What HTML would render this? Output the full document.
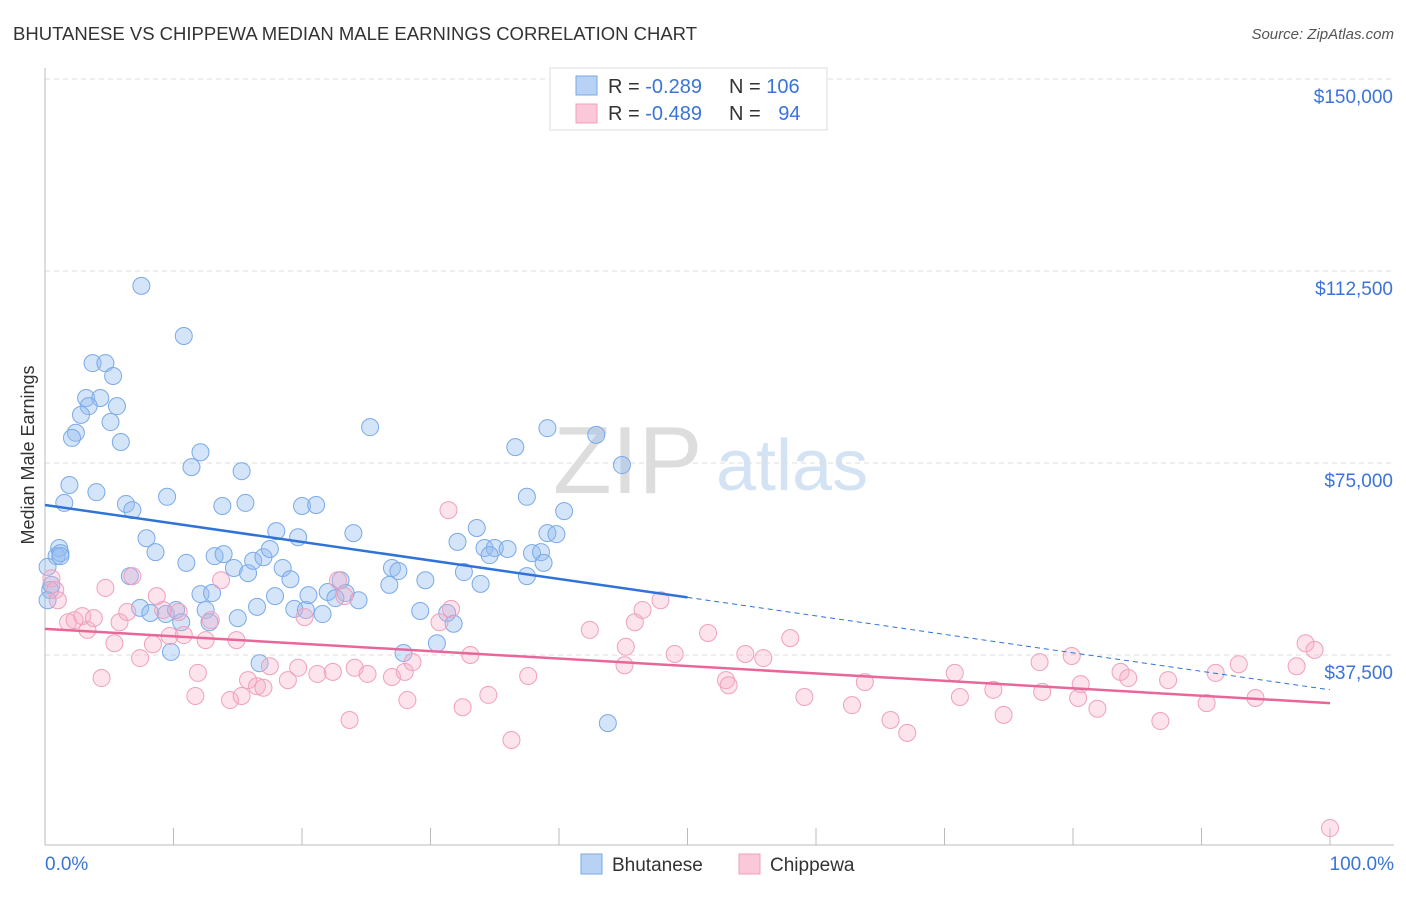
<!DOCTYPE html>
<html><head><meta charset="utf-8"><style>
body{margin:0;background:#fff;font-family:"Liberation Sans",sans-serif}
svg text{font-family:"Liberation Sans",sans-serif}
</style></head><body>
<svg id="chart" width="1406" height="892" viewBox="0 0 1406 892" xmlns="http://www.w3.org/2000/svg">
<text x="13" y="40" font-size="18" fill="#333" textLength="684" lengthAdjust="spacingAndGlyphs">BHUTANESE VS CHIPPEWA MEDIAN MALE EARNINGS CORRELATION CHART</text>
<text x="1394" y="39" font-size="15" fill="#555" text-anchor="end" font-style="italic">Source: ZipAtlas.com</text>
<g>
<text x="553" y="493" font-size="96" font-family="Liberation Serif" fill="#d0d0d0" opacity="0.7">ZIP</text>
<text x="716" y="490" font-size="72" fill="#b9d1ee" opacity="0.6">atlas</text>
</g>
<g id="grid"></g>
<g id="axes"></g>
<text transform="translate(34,455) rotate(-90)" font-size="18" fill="#333" text-anchor="middle">Median Male Earnings</text>
<g id="pts"></g>
<g id="trends"></g>
<g>
<rect x="550" y="68" width="277" height="62" fill="#fff" stroke="#ddd"/>
<rect x="576" y="76" width="21" height="19" fill="#b7d2f5" stroke="#7aaae8"/>
<rect x="576" y="104" width="21" height="19" fill="#fac8d8" stroke="#f0a0bc"/>
<text x="608" y="93" font-size="20" fill="#333">R = <tspan fill="#3a74d8">-0.289</tspan></text>
<text x="729" y="93" font-size="20" fill="#333">N = <tspan fill="#3a74d8">106</tspan></text>
<text x="608" y="120" font-size="20" fill="#333">R = <tspan fill="#3a74d8">-0.489</tspan></text>
<text x="729" y="120" font-size="20" fill="#333">N = <tspan fill="#3a74d8" dx="12">94</tspan></text>
</g>
<g>
<rect x="581" y="854" width="21" height="20" fill="#b7d2f5" stroke="#7aaae8"/>
<text x="612" y="871" font-size="19" fill="#333">Bhutanese</text>
<rect x="739" y="854" width="21" height="20" fill="#fac8d8" stroke="#f0a0bc"/>
<text x="770" y="871" font-size="19" fill="#333">Chippewa</text>
</g>
</svg>
<script>
const yTicks=[37500,75000,112500,150000];
const yTickLabels=["$37,500","$75,000","$112,500","$150,000"];
const blueX=[7.5,10.8,3.7,4.7,5.3,3.2,4.3,3.4,5.6,2.8,5.1,2.4,2.1,5.9,12.1,11.4,15.3,1.9,4.0,1.5,9.5,13.8,15.6,6.3,6.8,20.0,21.1,18.0,19.7,24.0,7.9,8.6,11.0,13.2,13.9,14.7,15.8,16.2,17.0,17.5,18.5,19.1,17.9,12.1,13.0,6.6,7.4,8.2,9.4,10.2,12.5,12.8,10.6,15.0,16.5,19.4,20.3,21.6,20.5,22.0,23.0,23.4,24.4,22.6,27.0,27.5,26.8,29.6,32.6,33.9,32.1,33.6,34.2,35.0,36.0,37.5,37.9,38.6,38.8,39.1,39.8,34.6,40.4,37.5,36.6,39.1,42.9,44.9,25.3,29.2,30.5,31.3,31.8,27.9,16.7,43.8,9.8,1.1,0.9,1.2,0.2,0.4,0.2,0.5,1.2];
const blueY=[109.6,99.8,94.5,94.5,92.0,87.7,87.7,86.1,86.1,84.4,83.0,80.9,79.9,79.1,77.1,74.2,73.4,70.7,69.3,67.2,68.4,66.6,67.2,67.0,65.8,66.6,66.8,61.7,60.5,61.3,60.3,57.6,55.5,56.8,57.2,54.5,53.5,55.9,56.6,58.2,54.5,52.3,49.0,49.4,49.6,52.9,46.7,45.7,45.5,46.3,46.3,43.9,43.9,44.7,46.9,46.5,46.3,45.5,49.2,49.8,52.1,49.6,48.2,48.6,54.5,53.9,51.2,52.1,53.7,51.4,59.6,62.3,58.4,58.4,58.2,52.9,57.4,57.6,55.5,61.3,61.1,57.0,65.6,68.4,78.1,81.8,80.5,74.6,82.0,46.1,39.8,45.7,43.6,37.9,35.9,24.2,38.1,58.4,56.8,57.4,54.7,50.2,48.2,51.2,56.8];
const pinkX=[0.5,0.8,1.0,1.8,2.3,2.9,3.3,3.8,4.4,4.7,5.4,5.8,6.4,6.8,7.4,8.4,8.7,9.2,9.7,10.4,10.8,11.7,11.9,12.5,12.9,13.7,14.4,14.9,15.3,15.8,16.5,17.0,17.5,18.9,19.7,20.2,21.2,22.4,22.8,23.3,23.7,24.1,25.1,27.0,28.0,28.2,28.6,30.7,31.6,32.5,33.1,34.5,36.3,37.6,42.4,45.1,45.2,45.9,46.5,47.9,49.0,51.6,53.0,53.2,54.5,55.9,58.0,59.1,62.8,63.8,65.8,67.1,70.8,71.2,73.8,74.6,77.4,77.6,79.9,80.4,80.6,81.9,83.7,84.3,87.4,86.8,90.4,91.1,92.9,94.2,97.4,98.1,98.8,100,31.4];
const pinkY=[52.5,50.2,48.2,43.9,44.3,45.1,42.4,44.7,33.0,50.6,39.8,43.9,45.9,52.9,36.9,39.6,49.0,46.3,41.2,45.9,41.4,29.5,34.0,40.4,44.3,52.1,28.7,40.4,29.5,32.6,31.4,31.1,35.3,32.6,35.0,44.9,33.8,34.2,52.1,49.0,24.8,35.0,33.8,33.2,34.2,28.7,36.1,43.9,46.5,27.3,37.5,29.7,20.9,33.4,42.4,35.5,39.1,43.9,46.3,48.2,37.7,41.8,32.6,31.6,37.7,36.9,40.8,29.3,27.7,32.2,24.8,22.3,34.0,29.3,30.7,25.8,36.1,30.3,37.3,29.1,31.8,27.0,34.2,33.0,32.6,24.6,28.1,34.0,35.7,29.1,35.3,39.8,38.5,3.7,65.8];
const blueTrend=[66.8,30.7];
const blueSolidEnd=50;
const pinkTrend=[42.6,28.1];

const NS="http://www.w3.org/2000/svg";
const X=p=>45+p*12.85;
const Y=v=>847-v/37500*192;
const Yk=k=>Y(k*1000);
function mk(tag,attrs,parent){const e=document.createElementNS(NS,tag);for(const k in attrs)e.setAttribute(k,attrs[k]);parent.appendChild(e);return e;}
const grid=document.getElementById('grid'),axes=document.getElementById('axes'),pts=document.getElementById('pts'),tr=document.getElementById('trends');
yTicks.forEach((t,i)=>{
 const l=mk('line',{x1:45,x2:1394,y1:Y(t),y2:Y(t),stroke:'#ddd','stroke-dasharray':'5,4'},grid);
 
 
 const tx=mk('text',{x:1393,y:Y(t)+24,'font-size':19,fill:'#3a74d8','text-anchor':'end'},axes);
 tx.textContent=yTickLabels[i];
 
 
});
let a=mk('line',{x1:45,x2:45,y1:68,y2:845,stroke:'#bbb'},axes);


a=mk('line',{x1:45,x2:1394,y1:845,y2:845,stroke:'#bbb'},axes);


for(let i=0;i<=10;i++){const t=mk('line',{x1:X(i*10),x2:X(i*10),y1:828,y2:845,stroke:'#bbb'},axes);
 
 }
let xl=mk('text',{x:45,y:870,'font-size':19,fill:'#3a74d8'},axes);xl.textContent='0.0%';


xl=mk('text',{x:1394,y:870,'font-size':19,fill:'#3a74d8','text-anchor':'end'},axes);xl.textContent='100.0%';


blueX.forEach((x,i)=>{const c=mk('circle',{cx:X(x),cy:Yk(blueY[i]),r:8.5,fill:'rgba(147,187,240,0.4)',stroke:'#7aaae8','stroke-width':1},pts);
 
 });
pinkX.forEach((x,i)=>{const c=mk('circle',{cx:X(x),cy:Yk(pinkY[i]),r:8.5,fill:'rgba(246,176,200,0.35)',stroke:'#f0a0bc','stroke-width':1},pts);
 
 });
const bAt=p=>blueTrend[0]+(blueTrend[1]-blueTrend[0])*p/100;
let t=mk('line',{x1:X(0),y1:Yk(bAt(0)),x2:X(blueSolidEnd),y2:Yk(bAt(blueSolidEnd)),stroke:'#2f72d8','stroke-width':2.5},tr);


t=mk('line',{x1:X(blueSolidEnd),y1:Yk(bAt(blueSolidEnd)),x2:X(100),y2:Yk(bAt(100)),stroke:'#2f72d8','stroke-width':1,'stroke-dasharray':'5,4'},tr);


t=mk('line',{x1:X(0),y1:Yk(pinkTrend[0]),x2:X(100),y2:Yk(pinkTrend[1]),stroke:'#e8679a','stroke-width':2.5},tr);


</script>
</body></html>
